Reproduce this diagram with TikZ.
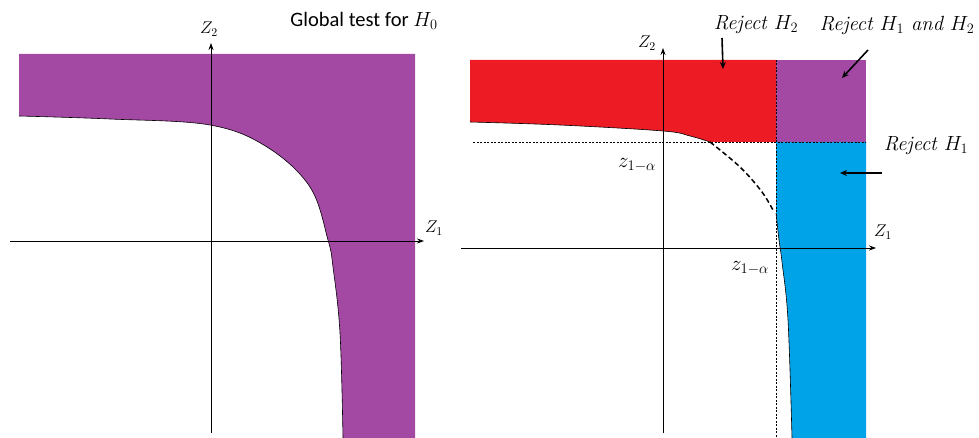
\RequirePackage{fix-cm}
\documentclass[tikz,border=0pt]{standalone}
\usepackage{fontspec}
\newfontfamily\calib{Carlito}
\usetikzlibrary{arrows.meta}
\definecolor{mspurple}{RGB}{163,73,164}
\definecolor{msred}{RGB}{237,28,36}
\definecolor{msblue}{RGB}{0,162,232}
\tikzset{
  axis/.style={line width=0.8pt,-{Stealth[length=7pt,width=5pt]}},
  pointer/.style={line width=1.6pt,-{Stealth[length=7pt,width=6pt]}},
  guide/.style={line width=0.6pt,dash pattern=on 2pt off 1.5pt},
  bound/.style={line width=0.6pt},
  axlabel/.style={font=\fontsize{17}{20}\selectfont, inner sep=0pt},
  critlabel/.style={font=\fontsize{21}{25}\selectfont, inner sep=0pt},
  rejlabel/.style={font=\fontsize{20.5}{24}\selectfont\itshape, inner sep=0pt},
}
\begin{document}
\begin{tikzpicture}[x=1pt,y=-1pt]
\useasboundingbox (0,0) rectangle (979,438);
% ---------- left panel ----------
\fill[mspurple] (19,54) -- (415,54) -- (415,438) -- (343,438)
  -- plot[smooth,tension=0.6] coordinates {(343,438) (340,333) (333,267) (328,240) (310,187) (267,147) (210,125) (110,119) (19,116)} -- cycle;
\draw[bound] plot[smooth,tension=0.6] coordinates {(343,438) (340,333) (333,267) (328,240) (310,187) (267,147) (210,125) (110,119) (19,116)};
\coordinate (lxs) at (10,241);
\coordinate (lxe) at (424,241);
\coordinate (lys) at (211,433);
\coordinate (lye) at (211,43);
\draw[axis] (lxs) -- (lxe);
\draw[axis] (lys) -- (lye);
\node[axlabel] (lz2) at (209,29) {$Z_2$};
\node[axlabel] (lz1) at (434,228) {$Z_1$};
\node[font=\calib\fontsize{20.5}{24}\selectfont, inner sep=0pt] (gt) at (364,21) {Global test for $H_0$};
% ---------- right panel ----------
\fill[msred] (470,60) -- (776,60) -- (776,142) -- (710,142)
  -- plot[smooth,tension=0.6] coordinates {(710,142) (690,136) (663,131) (560,125) (470,122)} -- cycle;
\fill[mspurple] (776,60) rectangle (866,142);
\fill[msblue] (776,142) -- (866,142) -- (866,438) -- (792,438)
  -- plot[smooth,tension=0.6] coordinates {(792,438) (788,320) (782,262) (779,240) (776,213)} -- cycle;
\draw[bound] plot[smooth,tension=0.6] coordinates {(710,142) (690,136) (663,131) (560,125) (470,122)};
\draw[bound] plot[smooth,tension=0.6] coordinates {(792,438) (788,320) (782,262) (779,240) (776,213)};
\draw[line width=1.5pt,dash pattern=on 5pt off 3pt] plot[smooth,tension=0.6] coordinates {(710,142) (740,167) (762,192) (774,212)};
\coordinate (hgs) at (473,142);
\coordinate (hge) at (866,142);
\coordinate (vgs) at (776,60);
\coordinate (vge) at (776,438);
\draw[guide] (hgs) -- (hge);
\draw[guide] (vgs) -- (vge);
\coordinate (rxs) at (461,248);
\coordinate (rxe) at (876,248);
\coordinate (rys) at (663,433);
\coordinate (rye) at (663,48);
\draw[axis] (rxs) -- (rxe);
\draw[axis] (rys) -- (rye);
\node[axlabel] (rz2) at (647,43) {$Z_2$};
\node[axlabel] (rz1) at (883,232) {$Z_1$};
\node[critlabel] (c2) at (637,165) {$z_{1-\alpha}$};
\node[critlabel] (c1) at (750,268) {$z_{1-\alpha}$};
\node[rejlabel] (r2) at (756,25) {Reject $H_2$};
\node[rejlabel] (r12) at (897,25) {Reject $H_1$ and $H_2$};
\node[rejlabel] (r1) at (926,146) {Reject $H_1$};
\coordinate (a2s) at (722,38);
\coordinate (a2e) at (723,69);
\coordinate (a12s) at (868,50);
\coordinate (a12e) at (842,78);
\coordinate (a1s) at (882,173);
\coordinate (a1e) at (840,173);
\draw[pointer] (a2s) -- (a2e);
\draw[pointer] (a12s) -- (a12e);
\draw[pointer] (a1s) -- (a1e);
\end{tikzpicture}
\end{document}
